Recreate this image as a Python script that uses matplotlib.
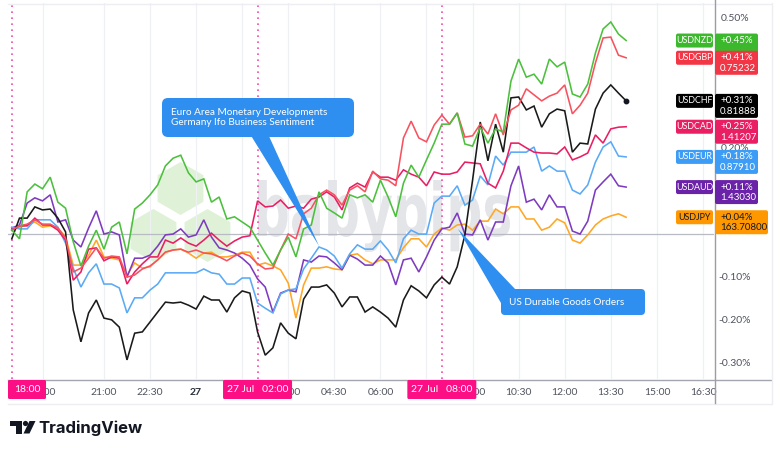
import numpy as np
import matplotlib
matplotlib.use("Agg")
import matplotlib.pyplot as plt
from matplotlib.transforms import Affine2D
from matplotlib.patches import FancyBboxPatch, Polygon, RegularPolygon, PathPatch, Rectangle, Circle
from matplotlib.textpath import TextPath
from matplotlib.font_manager import FontProperties
from matplotlib.lines import Line2D

plt.rcParams['font.family'] = ['Lato', 'DejaVu Sans']

W, H = 780, 454

# ---------------- data (percent change, 15-minute steps from 26 Jul 18:00) ----------------
step_hours = 0.25
usdnzd = [0.010, -0.010, 0.099, 0.117, 0.106, 0.133, 0.075, 0.061, -0.017, -0.073,
          -0.027, 0.010, -0.034, 0.017, 0.029, -0.045, 0.059, 0.073, 0.092, 0.115,
          0.159, 0.177, 0.184, 0.143, 0.122, 0.129, 0.075, 0.087, 0.036, 0.041,
          0.029, 0.017, -0.013, -0.043, -0.071, -0.036, -0.006, -0.052, 0.013, 0.022,
          0.099, 0.061, 0.050, 0.038, 0.092, 0.085, 0.092, 0.075, 0.126, 0.087,
          0.041, 0.119, 0.161, 0.133, 0.173, 0.212, 0.256, 0.256, 0.282, 0.210,
          0.205, 0.249, 0.212, 0.245, 0.238, 0.356, 0.407, 0.365, 0.372, 0.349,
          0.407, 0.389, 0.400, 0.326, 0.319, 0.349, 0.421, 0.477, 0.493, 0.465, 0.450]
usdgbp = [0.010, 0.020, 0.024, 0.034, 0.024, 0.024, 0.015, -0.008, -0.087, -0.078,
          -0.055, -0.031, -0.055, -0.050, -0.052, -0.099, -0.094, -0.080, -0.073, -0.059,
          -0.041, -0.036, -0.034, -0.041, -0.036, -0.043, -0.045, -0.052, -0.061, -0.050,
          -0.043, -0.050, -0.068, -0.080, -0.078, -0.036, 0.001, -0.010, 0.048, 0.061,
          0.092, 0.103, 0.092, 0.068, 0.103, 0.113, 0.099, 0.147, 0.129, 0.126,
          0.113, 0.224, 0.263, 0.224, 0.215, 0.254, 0.277, 0.256, 0.282, 0.226,
          0.229, 0.256, 0.233, 0.280, 0.231, 0.289, 0.300, 0.338, 0.324, 0.310,
          0.321, 0.328, 0.347, 0.280, 0.300, 0.328, 0.398, 0.456, 0.458, 0.416, 0.410]
usdchf = [-0.010, 0.038, 0.038, 0.064, 0.057, 0.059, 0.038, 0.006, -0.175, -0.249,
          -0.182, -0.152, -0.194, -0.198, -0.215, -0.291, -0.229, -0.226, -0.203, -0.180,
          -0.157, -0.159, -0.157, -0.164, -0.173, -0.143, -0.152, -0.152, -0.180, -0.147,
          -0.131, -0.136, -0.226, -0.280, -0.263, -0.205, -0.229, -0.242, -0.150, -0.122,
          -0.122, -0.117, -0.136, -0.168, -0.145, -0.145, -0.180, -0.168, -0.180, -0.194,
          -0.215, -0.152, -0.119, -0.131, -0.147, -0.117, -0.099, -0.115, -0.075, -0.001,
          0.126, 0.261, 0.171, 0.256, 0.191, 0.317, 0.319, 0.289, 0.298, 0.249,
          0.280, 0.291, 0.287, 0.191, 0.212, 0.210, 0.291, 0.328, 0.347, 0.328, 0.310]
usdcad = [0.010, 0.020, 0.020, 0.038, 0.022, 0.022, 0.010, -0.013, -0.106, -0.087,
          -0.034, -0.031, -0.061, -0.052, -0.055, -0.115, -0.087, -0.068, -0.052, -0.052,
          -0.013, -0.020, -0.008, -0.020, -0.027, -0.013, 0.003, -0.013, -0.027, -0.015,
          -0.006, -0.003, 0.078, 0.064, 0.066, 0.080, 0.061, 0.066, 0.061, 0.082,
          0.087, 0.099, 0.087, 0.057, 0.108, 0.119, 0.110, 0.145, 0.133, 0.133,
          0.126, 0.150, 0.140, 0.133, 0.113, 0.145, 0.140, 0.140, 0.145, 0.168,
          0.166, 0.164, 0.119, 0.108, 0.147, 0.212, 0.212, 0.201, 0.191, 0.189,
          0.189, 0.187, 0.203, 0.173, 0.180, 0.189, 0.231, 0.212, 0.245, 0.249, 0.250]
usdeur = [0.017, 0.013, 0.013, 0.034, 0.034, 0.034, 0.017, -0.020, -0.078, -0.122,
          -0.089, -0.068, -0.115, -0.115, -0.124, -0.182, -0.147, -0.147, -0.129, -0.115,
          -0.089, -0.089, -0.089, -0.089, -0.089, -0.080, -0.089, -0.092, -0.115, -0.115,
          -0.101, -0.101, -0.159, -0.171, -0.182, -0.138, -0.129, -0.126, -0.080, -0.055,
          -0.029, -0.036, -0.050, -0.078, -0.045, -0.024, -0.034, -0.034, -0.015, -0.036,
          -0.066, -0.010, 0.010, 0.001, 0.001, 0.073, 0.089, 0.089, 0.113, 0.068,
          0.080, 0.136, 0.115, 0.182, 0.161, 0.191, 0.191, 0.191, 0.203, 0.147,
          0.159, 0.147, 0.147, 0.103, 0.094, 0.115, 0.168, 0.203, 0.215, 0.182, 0.180]
usdaud = [0.015, 0.022, 0.073, 0.085, 0.078, 0.092, 0.029, 0.034, -0.013, -0.029,
          0.015, 0.055, 0.001, 0.006, -0.001, -0.099, -0.055, -0.055, -0.048, -0.027,
          -0.001, 0.001, 0.013, -0.006, -0.001, 0.034, -0.006, -0.031, -0.036, -0.043,
          -0.055, -0.071, -0.103, -0.122, -0.180, -0.136, -0.129, -0.133, -0.059, -0.064,
          -0.050, -0.052, -0.066, -0.082, -0.048, -0.057, -0.071, -0.071, -0.050, -0.066,
          -0.117, -0.059, -0.055, -0.087, -0.052, -0.013, 0.013, 0.017, 0.050, 0.001,
          -0.001, 0.034, -0.013, 0.029, 0.029, 0.113, 0.159, 0.075, 0.082, 0.057,
          0.092, 0.064, 0.064, 0.008, 0.001, 0.031, 0.103, 0.122, 0.140, 0.113, 0.110]
usdjpy = [0.010, 0.017, 0.022, 0.029, 0.017, 0.020, 0.015, -0.006, -0.071, -0.071,
          -0.048, -0.013, -0.052, -0.055, -0.059, -0.094, -0.066, -0.078, -0.075, -0.059,
          -0.041, -0.036, -0.034, -0.043, -0.055, -0.043, -0.041, -0.052, -0.052, -0.048,
          -0.041, -0.041, -0.071, -0.066, -0.073, -0.082, -0.113, -0.194, -0.117, -0.078,
          -0.078, -0.075, -0.080, -0.082, -0.048, -0.045, -0.059, -0.068, -0.059, -0.059,
          -0.059, -0.031, -0.010, -0.010, -0.029, 0.001, 0.015, 0.010, 0.022, 0.024,
          0.010, 0.031, 0.031, 0.059, 0.048, 0.064, 0.064, 0.036, 0.036, 0.010,
          0.017, 0.036, 0.027, -0.013, -0.020, -0.001, 0.022, 0.036, 0.043, 0.048, 0.040]

symbols = ["USDNZD", "USDGBP", "USDCHF", "USDCAD", "USDEUR", "USDAUD", "USDJPY"]
prices = ["1.72990", "0.75232", "0.81888", "1.41207", "0.87910", "1.43030", "163.70800"]
all_series = [usdnzd, usdgbp, usdchf, usdcad, usdeur, usdaud, usdjpy]

# time-axis labels that are visible (or peek out) in the reference
tick_hours = [1, 3, 4.5, 6, 9, 10.5, 12, 15, 16.5, 18, 19.5, 21, 22.5]
tick_labels = ["19:00", "21:00", "22:30", "27", "03:00", "04:30", "06:00",
               "09:00", "10:30", "12:00", "13:30", "15:00", "16:30"]
# price-axis labels that are not covered by the symbol boxes
price_ticks = [0.5, 0.2, -0.1, -0.2, -0.3]
event_hours = [0, 8, 14]
event_labels = ["18:00", "27 Jul   02:00", "27 Jul   08:00"]
callout1 = "Euro Area Monetary Developments\nGermany Ifo Business Sentiment"
callout2 = "US Durable Goods Orders"

# ---------------- styles ----------------
line_colors = ['#4cc03d', '#f7525f', '#1a1a1a', '#e91e63', '#5aaaf6', '#7e3bc0', '#ffa726']
box_colors = ['#3cb82c', '#f23645', '#000000', '#e91e63', '#3d9cf5', '#6a22a8', '#ff9800']
text_colors = ['white'] * 6 + ['#131722']
pink = '#fc0f84'
blue_call = '#2e8ff0'

fig = plt.figure(figsize=(W / 100, H / 100), dpi=100)
fig.patch.set_facecolor('white')
ax = fig.add_axes([8 / W, 1 - 379 / H, (714 - 8) / W, (379 - 3) / H])
ax.set_facecolor('white')
PX = Affine2D().scale(1 / W, -1 / H).translate(0, 1) + fig.transFigure

for s in ax.spines.values():
    s.set_visible(False)

hours = np.arange(len(usdnzd)) * step_hours
for i, (vals, c) in enumerate(zip(all_series, line_colors)):
    assert len(vals) == len(hours)
    ax.plot(hours, vals, color=c, lw=1.15, zorder=3 + (0.1 * (6 - i)), solid_joinstyle='miter')
ax.plot(hours[-1:], usdchf[-1:], 'o', color='#131722', ms=3.2, zorder=4)

ax.axhline(0, color='#b8bbc3', lw=0.9, zorder=1.8)
for h in event_hours:
    ax.axvline(h, color='#f54aa6', lw=1.2, ls=(0, (1, 2.6)), zorder=1.7)

ax.set_xlim(-0.124, 22.86)
ax.set_ylim(-0.3353, 0.5371)
ax.set_xticks(tick_hours)
ax.set_xticklabels(tick_labels)
ax.set_yticks([])
ax.tick_params(axis='x', length=0, pad=6.5, labelsize=7.5, labelcolor='#50535e')
ax.get_xticklabels()[3].set_fontweight('bold')
ax.get_xticklabels()[3].set_color('#2a2e39')
ax.grid(axis='x', color='#eef0f4', lw=0.9)
ax.set_axisbelow(True)
# hidden grid positions (labels covered by the event boxes)
for h in [7.5, 13.5]:
    ax.axvline(h, color='#eef0f4', lw=0.9, zorder=0.9)

# ---------------- watermark ----------------
hex_color = '#dff2d8'
for cx, cy in [(180.5, 188.5), (153.5, 235.5), (207.5, 235.5)]:
    ax.add_patch(RegularPolygon((cx, cy), 6, radius=26.5, orientation=0, transform=PX,
                                facecolor=hex_color, edgecolor='none', zorder=0.5, clip_on=False))
fp = FontProperties(family='DejaVu Sans', weight='bold')
tp = TextPath((0, 0), "babypips", size=100, prop=fp)
bb = tp.get_extents()
b_h = TextPath((0, 0), "b", size=100, prop=fp).get_extents().ymax
sx = (510 - 258) / (bb.xmax - bb.xmin)
sy = (236 - 180) / b_h
wm_tr = Affine2D().translate(-bb.xmin, 0).scale(sx, -sy).translate(258, 236) + PX
ax.add_patch(PathPatch(tp, transform=wm_tr, facecolor='#e4e5e8', edgecolor='none',
                       zorder=0.6, clip_on=False))

# ---------------- frame lines ----------------
def fline(xs, ys, color, lw=1.0, z=2):
    fig.add_artist(Line2D(xs, ys, transform=PX, color=color, lw=lw, zorder=z))

fline([8, 771], [3.5, 3.5], '#eceef2')
fline([8, 771], [379.5, 379.5], '#a3a6af')
fline([8, 771], [403.5, 403.5], '#eceef2')
fline([771.5, 771.5], [3, 404], '#eceef2')
fline([714.5, 714.5], [0, 403], '#9a9da6')

# ---------------- right axis price labels ----------------
def ytop(v):
    return H - ax.transData.transform((0, v))[1]

def xpx(h):
    return ax.transData.transform((h, 0))[0]

for v in price_ticks:
    fig.text(735, ytop(v), f"{v:.2f}%", transform=PX, ha='center', va='center',
             fontsize=7.5, color='#50535e', zorder=2)

for i, (sym, vals, price) in enumerate(zip(symbols, all_series, prices)):
    y0 = ytop(vals[-1])
    z = 10 + i
    fig.add_artist(FancyBboxPatch((676, y0 - 7), 37, 14, boxstyle="round,pad=0,rounding_size=2",
                                  transform=PX, facecolor=box_colors[i], edgecolor='none', zorder=z))
    vw = 53 if len(price) > 7 else 43
    fig.add_artist(FancyBboxPatch((715, y0 - 7), vw, 24, boxstyle="round,pad=0,rounding_size=2",
                                  transform=PX, facecolor=box_colors[i], edgecolor='none', zorder=z))
    fig.text(694.5, y0, sym, transform=PX, ha='center', va='center', fontsize=6.4,
             color=text_colors[i], zorder=z + 0.5)
    fig.text(720, y0, f"{vals[-1]:+.2f}%", transform=PX, ha='left', va='center', fontsize=7,
             color=text_colors[i], zorder=z + 0.5)
    if i > 0:  # NZD price line is hidden under the GBP box in the reference
        fig.text(720, y0 + 10.5, price, transform=PX, ha='left', va='center', fontsize=7,
                 color=text_colors[i], zorder=z + 0.5)

# ---------------- event labels on the time axis ----------------
for h, lab in zip(event_hours, event_labels):
    cx = xpx(h)
    w = 38 if len(lab) < 8 else 69
    x0 = max(8, cx - w / 2)
    fig.add_artist(FancyBboxPatch((x0, 380), w, 19, boxstyle="round,pad=0,rounding_size=1.5",
                                  transform=PX, facecolor=pink, edgecolor='none', zorder=8))
    fig.text(x0 + w / 2, 390, lab, transform=PX, ha='center', va='center', fontsize=7.5,
             color='white', zorder=9)

# ---------------- callouts ----------------
fig.add_artist(Polygon([(250, 134), (268, 134), (319, 246)], closed=True, transform=PX,
                       facecolor=blue_call, edgecolor='none', zorder=6))
fig.add_artist(FancyBboxPatch((162, 98), 192, 39, boxstyle="round,pad=0,rounding_size=6",
                              transform=PX, facecolor=blue_call, edgecolor='none', zorder=6))
fig.text(171, 117.5, callout1, transform=PX, ha='left', va='center', fontsize=7.2,
         color='white', linespacing=1.1, zorder=7)

fig.add_artist(Polygon([(458, 229), (501, 303), (516, 290)], closed=True, transform=PX,
                       facecolor=blue_call, edgecolor='none', zorder=6))
fig.add_artist(FancyBboxPatch((501, 289), 144, 26, boxstyle="round,pad=0,rounding_size=4",
                              transform=PX, facecolor=blue_call, edgecolor='none', zorder=6))
fig.text(567, 302.5, callout2, transform=PX, ha='center', va='center', fontsize=7.2,
         color='white', zorder=7)

# ---------------- TradingView logo ----------------
logo_c = '#131722'
fig.add_artist(Rectangle((10, 421), 12, 5, transform=PX, facecolor=logo_c, edgecolor='none', zorder=5))
fig.add_artist(Rectangle((16, 421), 5.5, 12.5, transform=PX, facecolor=logo_c, edgecolor='none', zorder=5))
fig.add_artist(Circle((25.5, 423.5), 2.6, transform=PX, facecolor=logo_c, edgecolor='none', zorder=5))
fig.add_artist(Polygon([(23.5, 433.5), (29.5, 433.5), (35.5, 421), (29.5, 421)], closed=True,
                       transform=PX, facecolor=logo_c, edgecolor='none', zorder=5))
fig.text(38.5, 433.5, "TradingView", transform=PX, ha='left', va='baseline', fontsize=12,
         fontweight='bold', family=['Inter', 'DejaVu Sans'], color=logo_c, zorder=5)

fig.savefig("out.png", dpi=100, facecolor='white')
